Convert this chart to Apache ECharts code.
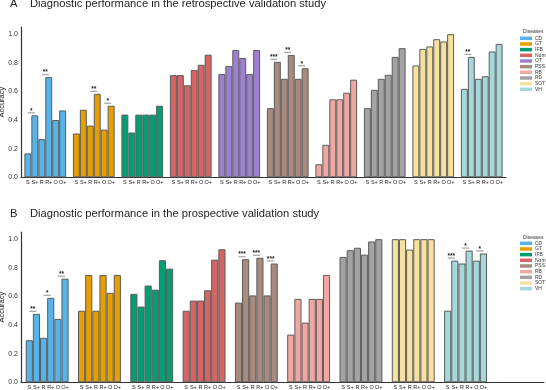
<!DOCTYPE html>
<html style="height: 100%">
<head>
<meta charset="utf-8">
</head>
<body style="height: 100%; margin: 0">
<div id="container" style="width: 546px; height: 390px"></div>
<script src="https://cdn.jsdelivr.net/npm/echarts/dist/echarts.min.js"></script>
<script>
// methods shown under every bar
var methods = ['S', 'S+', 'R', 'R+', 'O', 'O+'];

var diseasesA = ['CD', 'GT', 'IFB', 'Normal', 'OT', 'PSS', 'RB', 'RD', 'SOT', 'VH'];
var diseasesB = ['CD', 'GT', 'IFB', 'Normal', 'PSS', 'RB', 'RD', 'SOT', 'VH'];

// accuracy per disease, in the order S, S+, R, R+, O, O+
var retroA = {
    CD:     [0.167, 0.433, 0.267, 0.700, 0.400, 0.467],
    GT:     [0.306, 0.472, 0.361, 0.583, 0.333, 0.500],
    IFB:    [0.438, 0.313, 0.438, 0.438, 0.438, 0.500],
    Normal: [0.714, 0.714, 0.643, 0.750, 0.786, 0.857],
    OT:     [0.722, 0.778, 0.889, 0.833, 0.722, 0.889],
    PSS:    [0.483, 0.807, 0.688, 0.855, 0.688, 0.762],
    RB:     [0.091, 0.227, 0.545, 0.545, 0.591, 0.682],
    RD:     [0.483, 0.611, 0.688, 0.716, 0.841, 0.902],
    SOT:    [0.781, 0.897, 0.914, 0.965, 0.949, 1.000],
    VH:     [0.618, 0.841, 0.688, 0.706, 0.879, 0.932]
};
var prospB = {
    CD:     [0.294, 0.478, 0.311, 0.590, 0.443, 0.724],
    GT:     [0.500, 0.750, 0.500, 0.750, 0.625, 0.750],
    IFB:    [0.618, 0.529, 0.676, 0.647, 0.853, 0.794],
    Normal: [0.500, 0.571, 0.571, 0.643, 0.857, 0.929],
    PSS:    [0.557, 0.860, 0.607, 0.870, 0.607, 0.830],
    RB:     [0.333, 0.583, 0.417, 0.583, 0.583, 0.750],
    RD:     [0.876, 0.923, 0.940, 0.892, 0.984, 1.000],
    SOT:    [1.000, 1.000, 0.927, 1.000, 1.000, 1.000],
    VH:     [0.500, 0.850, 0.830, 0.920, 0.850, 0.900]
};

// significance marks: disease, pair (0 = S/S+, 1 = R/R+, 2 = O/O+), stars
var sigA = [['CD', 0, '*'], ['CD', 1, '**'], ['GT', 1, '**'], ['GT', 2, '*'],
            ['PSS', 0, '***'], ['PSS', 1, '**'], ['PSS', 2, '*'], ['VH', 0, '**']];
var sigB = [['CD', 0, '**'], ['CD', 1, '*'], ['CD', 2, '**'],
            ['PSS', 0, '***'], ['PSS', 1, '***'], ['PSS', 2, '***'],
            ['VH', 0, '***'], ['VH', 1, '*'], ['VH', 2, '*']];

var yTicks = [0, 0.2, 0.4, 0.6, 0.8, 1.0];

var colors = {
    CD: '#56B4E9', GT: '#E69F00', IFB: '#029E73', Normal: '#D66464', OT: '#9E80D2',
    PSS: '#A88A7E', RB: '#F1A7A1', RD: '#A3A3A3', SOT: '#F6E19E', VH: '#A4D8DA'
};

var font = "'Liberation Sans', Arial, sans-serif";
var gapA = 0.14, gapB = 0.18;

function panelSeries(idx, diseases, table, gap, sig) {
    var out = methods.map(function (m, k) {
        return {
            name: m,
            type: 'bar',
            xAxisIndex: idx,
            yAxisIndex: idx,
            barGap: '0%',
            barCategoryGap: (gap * 100) + '%',
            silent: true,
            itemStyle: { borderColor: '#5c5c5c', borderWidth: 1 },
            label: {
                show: true, position: 'bottom', distance: 2,
                formatter: m, fontSize: 5.5, color: '#222', fontFamily: font
            },
            data: diseases.map(function (d) {
                return { value: table[d][k], itemStyle: { color: colors[d] } };
            })
        };
    });
    out.push({
        type: 'custom',
        xAxisIndex: idx,
        yAxisIndex: idx,
        silent: true,
        z: 5,
        clip: false,
        data: sig.map(function (s) {
            var v = table[s[0]];
            return [diseases.indexOf(s[0]), s[1], Math.max(v[2 * s[1]], v[2 * s[1] + 1])];
        }),
        renderItem: function (params, api) {
            var p = api.value(1);
            var c = api.coord([api.value(0), api.value(2)]);
            var band = api.size([1, 0])[0];
            var gw = band * (1 - gap);
            var bw = gw / 6;
            var left = c[0] - gw / 2;
            var x1 = left + (2 * p + 0.5) * bw;
            var x2 = left + (2 * p + 1.5) * bw;
            var yy = c[1] - 2.5;
            return {
                type: 'group',
                children: [{
                    type: 'line',
                    shape: { x1: x1, y1: yy, x2: x2, y2: yy },
                    style: { stroke: '#a8a8a8', lineWidth: 1.3 }
                }, {
                    type: 'text',
                    style: {
                        text: sig[params.dataIndex][2], x: (x1 + x2) / 2, y: yy + 1.5,
                        align: 'center', verticalAlign: 'bottom',
                        fontSize: 6.5, fontWeight: 'bold', fill: '#222', fontFamily: font
                    }
                }]
            };
        }
    });
    return out;
}

function yAxis(idx) {
    return {
        type: 'value', gridIndex: idx, min: 0, max: 1.05, interval: 0.2,
        name: 'Accuracy', nameLocation: 'middle', nameGap: 15, nameMoveOverlap: false,
        nameTextStyle: { fontSize: 7.5, color: '#222', fontFamily: font },
        axisLine: { show: true, lineStyle: { color: '#333', width: 1.2 } },
        axisTick: { show: false },
        splitLine: { show: false },
        axisLabel: {
            fontSize: 7, color: '#333', margin: 3, fontFamily: font,
            formatter: function (v) {
                return yTicks.some(function (t) { return Math.abs(t - v) < 1e-6; }) ? v.toFixed(1) : '';
            }
        }
    };
}

var legendSeries = diseasesA.map(function (d) {
    return { name: d, type: 'line', data: [], itemStyle: { color: colors[d] }, lineStyle: { color: colors[d] } };
});

function legend(names, top) {
    return {
        data: names, orient: 'vertical', left: 520, top: top, padding: 0,
        itemWidth: 12, itemHeight: 3.5, itemGap: 0.67, icon: 'rect', selectedMode: false,
        textStyle: { fontSize: 5, lineHeight: 5, color: '#333', fontFamily: font, padding: [0, 0, 0, -2] }
    };
}

var titleStyle = { fontSize: 11.2, fontWeight: 'normal', color: '#222', fontFamily: font };
var smallTitle = { fontSize: 5, fontWeight: 'normal', color: '#333', fontFamily: font };

var option = {
    animation: false,
    backgroundColor: '#fff',
    title: [
        { text: 'A', left: 10, top: -1.5, padding: 0, textStyle: titleStyle },
        { text: 'Diagnostic performance in the retrospective validation study', left: 30, top: -1.5, padding: 0, textStyle: titleStyle },
        { text: 'B', left: 10, top: 208, padding: 0, textStyle: titleStyle },
        { text: 'Diagnostic performance in the prospective validation study', left: 30, top: 208, padding: 0, textStyle: titleStyle },
        { text: 'Diseases', left: 523, top: 29.5, padding: 0, textStyle: smallTitle },
        { text: 'Diseases', left: 523, top: 235, padding: 0, textStyle: smallTitle }
    ],
    legend: [legend(diseasesA, 35.8), legend(diseasesB, 240.8)],
    grid: [
        { left: 21, width: 485, top: 27, height: 150.3, outerBoundsMode: 'none' },
        { left: 21, right: 2, top: 232, height: 150.3, outerBoundsMode: 'none' }
    ],
    xAxis: [
        { type: 'category', gridIndex: 0, data: diseasesA,
          axisLabel: { show: false }, axisTick: { show: false },
          axisLine: { lineStyle: { color: '#333', width: 1.2 } } },
        { type: 'category', gridIndex: 1, data: diseasesB, max: diseasesB.length,
          axisLabel: { show: false }, axisTick: { show: false },
          axisLine: { lineStyle: { color: '#333', width: 1.2 } } }
    ],
    yAxis: [yAxis(0), yAxis(1)],
    series: panelSeries(0, diseasesA, retroA, gapA, sigA)
        .concat(panelSeries(1, diseasesB, prospB, gapB, sigB))
        .concat(legendSeries)
};

var myChart = echarts.init(document.getElementById('container'));
myChart.setOption(option);
</script>
</body>
</html>
